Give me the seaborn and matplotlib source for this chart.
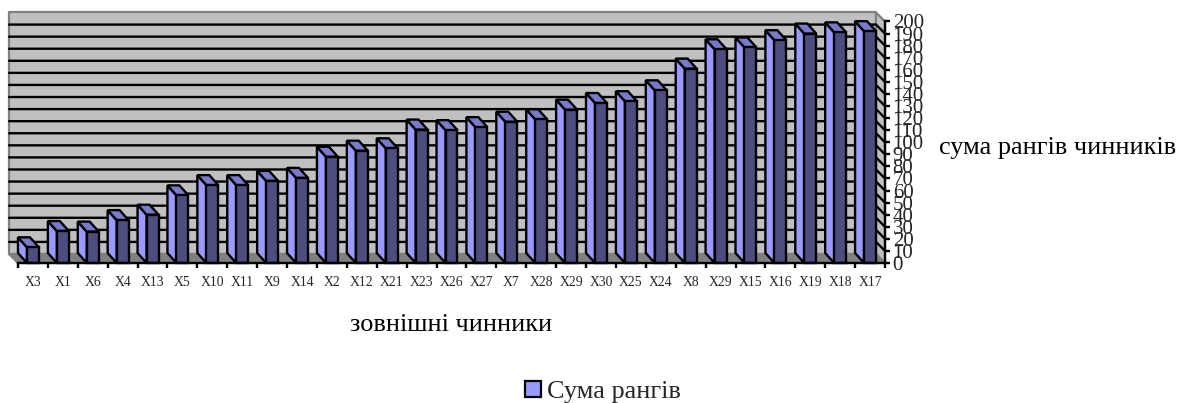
import matplotlib
matplotlib.use("Agg")
import matplotlib.pyplot as plt
from matplotlib.patches import Polygon, Patch
import seaborn as sns

labels = ["X3","X1","X6","X4","X13","X5","X10","X11","X9","X14","X2","X12","X21","X23","X26",
          "X27","X7","X28","X29","X30","X25","X24","X8","X29","X15","X16","X19","X18","X17"]
values = [13,26.5,26,35.5,40,56,64.5,64.5,68,70.5,88,93,95,110.5,110,
          112.5,117,119,127,132.5,134,143,161,177,178.5,184.5,190,191,192]
y_ticks = list(range(0, 201, 10))
x_title = "зовнішні чинники"
y_title = "сума рангів чинників"
series_name = "Сума рангів"

W, H = 1185, 403
sns.set_style("white")
plt.rcParams["font.family"] = ["Liberation Serif", "DejaVu Serif"]

fig = plt.figure(figsize=(W/100, H/100), dpi=100)
L, R, B, T = 18, 885, 263, 21.5
ax = fig.add_axes([L/W, 1-B/H, (R-L)/W, (B-T)/H])
pos = list(range(len(values)))

FRONT, SIDE, TOP_C = "#4d4d80", "#9999ff", "#7a7acc"
LW = 1.7
sns.barplot(x=pos, y=values, order=pos, color=FRONT, saturation=1, width=0.4,
            edgecolor="black", linewidth=LW, ax=ax, zorder=3)
ax.set_xlim(-0.5, len(values)-0.5)
ax.set_ylim(0, 200)

ux = len(values) / (R-L)
uy = 200 / (B-T)
dx, dy = -9*ux, 9*uy
bar_dy = 10*uy

x0, x1 = -0.5, len(values)-0.5
kw = dict(clip_on=False, lw=1.6, joinstyle="round")
ax.add_patch(Polygon([(x0+dx, dy), (x0+dx, 200+dy), (x1+dx, 200+dy), (x1+dx, dy)],
                     fc="#c0c0c0", ec="#808080", zorder=0, **kw))
ax.add_patch(Polygon([(x1+dx, dy), (x1+dx, 200+dy), (x1, 200), (x1, 0)],
                     fc="#c0c0c0", ec="#808080", zorder=0, **kw))
ax.add_patch(Polygon([(x0, 0), (x0+dx, dy), (x1+dx, dy), (x1, 0)],
                     fc="#808080", ec="#808080", zorder=0.5, **kw))
for v in y_ticks[1:-1]:
    ax.plot([x0+dx, x1+dx, x1], [v+dy, v+dy, v], color="black", lw=1.7, zorder=1,
            clip_on=False, solid_joinstyle="miter")

for b in ax.patches[:len(values)]:
    x, w, h = b.get_x(), b.get_width(), b.get_height()
    ax.add_patch(Polygon([(x, 0), (x, h), (x+dx, h+bar_dy), (x+dx, bar_dy)], fc=SIDE, ec="black",
                         lw=LW, zorder=2.5, clip_on=False))
    ax.add_patch(Polygon([(x, h), (x+dx, h+bar_dy), (x+w+dx, h+bar_dy), (x+w, h)], fc=TOP_C, ec="black",
                         lw=LW, zorder=2.5, clip_on=False))
    b.set_clip_on(False)

sns.despine(ax=ax, left=True, top=True, right=False, bottom=False)
for s in ("bottom", "right"):
    ax.spines[s].set_color("black")
    ax.spines[s].set_linewidth(LW)
    ax.spines[s].set_zorder(4)
ax.patch.set_visible(False)

ax.yaxis.tick_right()
ax.set_yticks(y_ticks)
ax.set_yticklabels([str(v) for v in y_ticks], fontsize=15, ha="left")
ax.tick_params(axis="y", which="major", length=3.5, width=LW, color="black", pad=2, right=True, left=False)

ax.set_xticks([p-0.5 for p in pos] + [len(pos)-0.5])
ax.set_xticklabels([""]*(len(pos)+1))
ax.set_xticks(pos, minor=True)
ax.set_xticklabels(labels, minor=True, fontsize=9.8)
ax.tick_params(axis="x", which="major", length=3.5, width=LW, color="black", bottom=True)
ax.tick_params(axis="x", which="minor", length=0, pad=9)
ax.set_xlabel("")
ax.set_ylabel("")
ax.grid(False)

fig.text(451/W, 1-325/H, x_title, fontsize=18.9, ha="center", va="center", color="black")
fig.text(1058/W, 1-148/H, y_title, fontsize=18.9, ha="center", va="center", color="black")
fig.legend(handles=[Patch(fc=SIDE, ec="black", lw=1.6, label=series_name)], loc="center",
           bbox_to_anchor=(603/W, 1-392/H), frameon=False, fontsize=18.9,
           handlelength=0.6, handleheight=0.6, handletextpad=0.25, borderpad=0, borderaxespad=0)
fig.savefig("out.png", dpi=100)
